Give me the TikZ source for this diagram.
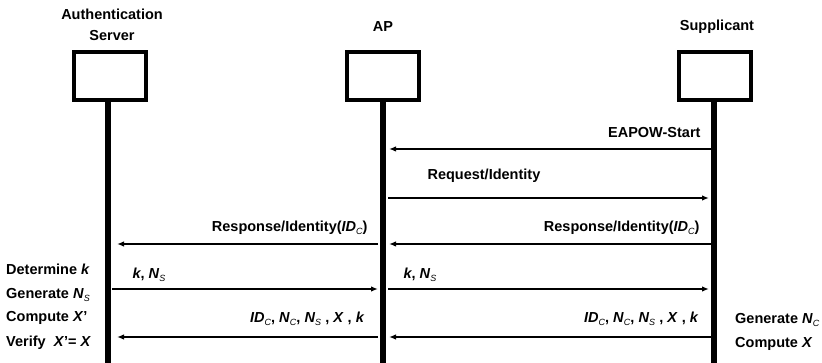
\documentclass[tikz,border=0pt]{standalone}
\usepackage{fontspec}
\setmainfont{Liberation Sans}
\usetikzlibrary{arrows.meta}
\newcommand{\subvar}[2]{\textit{#1}\raisebox{-0.45ex}{\fontsize{9}{9}\selectfont\mdseries\itshape #2}}

\begin{document}
\begin{tikzpicture}[x=1pt, y=-1pt, font=\fontsize{14.5}{21}\selectfont\bfseries]
       \tikzstyle{entity}=[draw, line width=4pt, minimum width=72pt, minimum height=48pt, inner sep=0pt]
       \tikzstyle{lifeline}=[line width=5.5pt]
       \tikzstyle{msg}=[line width=1.8pt, -{Latex[length=7pt,width=5.5pt]}]
       \tikzstyle{title}=[align=center, inner sep=0pt]
       \tikzstyle{note}=[anchor=west, inner sep=0pt]
       \useasboundingbox (0,0) rectangle (822,363);

       % the three parties
       \node[entity] (as) at (110,76) {};
       \node[entity] (ap) at (383,76) {};
       \node[entity] (sup) at (715,76) {};
       \node[title] (astitle) at (112,25) {Authentication\\Server};
       \node[title] (aptitle) at (383,27) {AP};
       \node[title] (suptitle) at (717,27) {Supplicant};

       % lifelines
       \coordinate (asbot) at (108,363);
       \coordinate (apbot) at (383,363);
       \coordinate (supbot) at (714,363);
       \draw[lifeline] (as.south -| asbot) -- (asbot);
       \draw[lifeline] (ap.south) -- (apbot);
       \draw[lifeline] (sup.south -| supbot) -- (supbot);

       % EAPOW-Start
       \coordinate (s1) at (711,149);
       \coordinate (a1) at (389,149);
       \draw[msg] (s1) -- (a1);
       \node[anchor=east] (m1) at (704,133) {EAPOW-Start};

       % Request/Identity
       \coordinate (a2) at (388,198);
       \coordinate (s2) at (709,198);
       \draw[msg] (a2) -- (s2);
       \node[anchor=west] (m2) at (424,176) {Request/Identity};

       % Response/Identity
       \coordinate (s3) at (711,244);
       \coordinate (a3r) at (389,244);
       \coordinate (a3l) at (378,244);
       \coordinate (as3) at (117,244);
       \draw[msg] (s3) -- (a3r);
       \draw[msg] (a3l) -- (as3);
       \node[anchor=east] (m3r) at (703,228) {Response/Identity(\subvar{ID}{C})};
       \node[anchor=east] (m3l) at (371,228) {Response/Identity(\subvar{ID}{C})};

       % k, N_S
       \coordinate (as4) at (112,289);
       \coordinate (a4l) at (378,289);
       \coordinate (a4r) at (388,289);
       \coordinate (s4) at (709,289);
       \draw[msg] (as4) -- (a4l);
       \draw[msg] (a4r) -- (s4);
       \node[anchor=west] (m4l) at (129,275) {\textit{k}, \subvar{N}{S}};
       \node[anchor=west] (m4r) at (400,275) {\textit{k}, \subvar{N}{S}};

       % ID_C, N_C, N_S, X, k
       \coordinate (s5) at (711,337);
       \coordinate (a5r) at (389,337);
       \coordinate (a5l) at (378,337);
       \coordinate (as5) at (117,337);
       \draw[msg] (s5) -- (a5r);
       \draw[msg] (a5l) -- (as5);
       \node[anchor=east] (m5r) at (702,319) {\subvar{ID}{C}, \subvar{N}{C}, \subvar{N}{S} , \textit{X} , \textit{k}};
       \node[anchor=east] (m5l) at (368,319) {\subvar{ID}{C}, \subvar{N}{C}, \subvar{N}{S} , \textit{X} , \textit{k}};

       % local steps
       \node[note] (n1) at (6,269) {Determine \textit{k}};
       \node[note] (n2) at (6,295) {Generate \subvar{N}{S}};
       \node[note] (n3) at (6,318) {Compute \textit{X}'};
       \node[note] (n4) at (6,343) {Verify \ \textit{X}'= \textit{X}};
       \node[note] (n5) at (735,320) {Generate \subvar{N}{C}};
       \node[note] (n6) at (735,344) {Compute \textit{X}};
\end{tikzpicture}
\end{document}
